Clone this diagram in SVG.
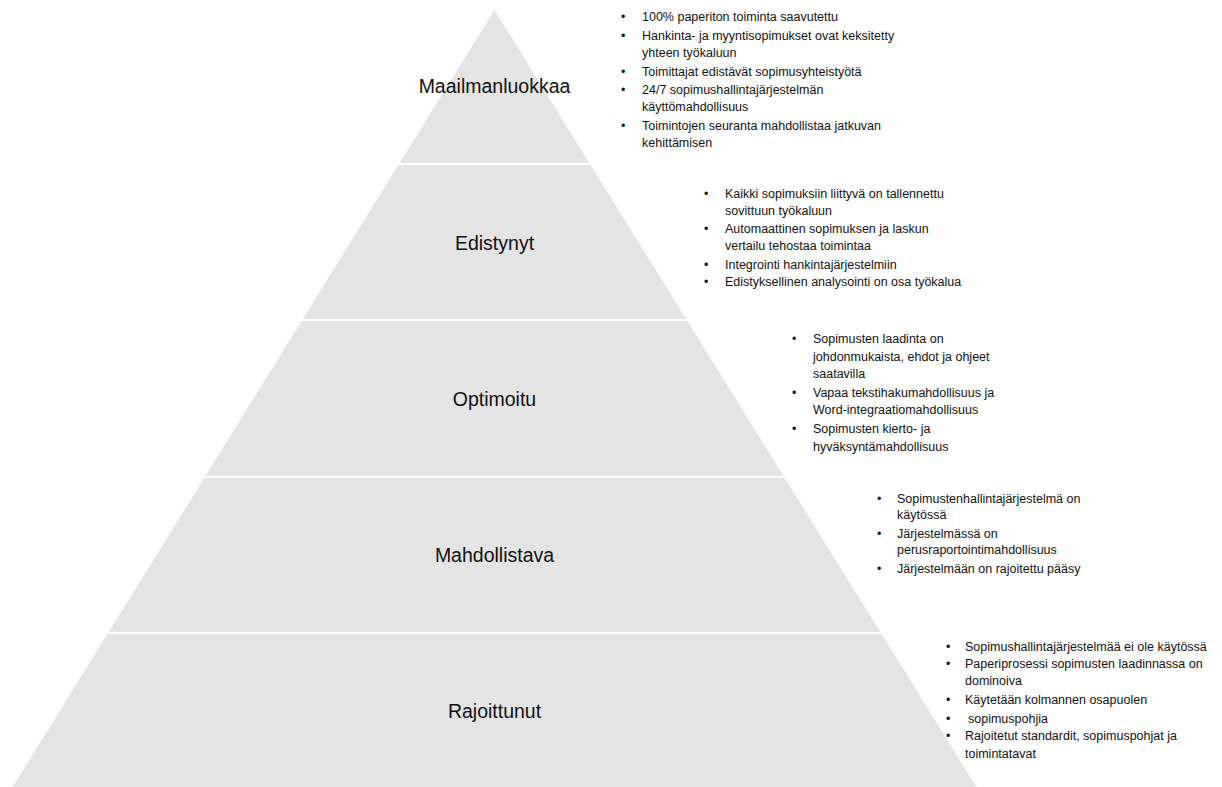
<svg xmlns="http://www.w3.org/2000/svg" width="1222" height="787" viewBox="0 0 1222 787">
<style>
.lvl{fill:#e4e4e4;}
.lbl{font-family:"Liberation Sans",Arial,sans-serif;font-size:19.5px;fill:#111;text-anchor:middle;}
.bt{font-family:"Liberation Sans",Arial,sans-serif;font-size:12.5px;fill:#111;}
</style>
<rect width="1222" height="787" fill="#ffffff"/>
<g id="level-maailmanluokkaa">
<polygon class="lvl" points="494.5,10 589.4,163 399.6,163"/>
<text class="lbl" x="494.5" y="93">Maailmanluokkaa</text>
</g>
<g id="level-edistynyt">
<polygon class="lvl" points="398.4,165 590.6,165 686.2,319 302.8,319"/>
<text class="lbl" x="494.5" y="250">Edistynyt</text>
</g>
<g id="level-optimoitu">
<polygon class="lvl" points="301.6,321 687.4,321 783.6,476 205.4,476"/>
<text class="lbl" x="494.5" y="406">Optimoitu</text>
</g>
<g id="level-mahdollistava">
<polygon class="lvl" points="204.2,478 784.8,478 880.3,632 108.7,632"/>
<text class="lbl" x="494.5" y="562">Mahdollistava</text>
</g>
<g id="level-rajoittunut">
<polygon class="lvl" points="107.4,634 881.6,634 976.5,787 12.5,787"/>
<text class="lbl" x="494.5" y="718">Rajoittunut</text>
</g>
<g id="notes-maailmanluokkaa" class="bt">
<text x="621" y="21">•</text><text x="642" y="21">100% paperiton toiminta saavutettu</text>
<text x="621" y="39.5">•</text><text x="642" y="39.5">Hankinta- ja myyntisopimukset ovat keksitetty</text>
<text x="642" y="56.5">yhteen työkaluun</text>
<text x="621" y="75.5">•</text><text x="642" y="75.5">Toimittajat edistävät sopimusyhteistyötä</text>
<text x="621" y="94">•</text><text x="642" y="94">24/7 sopimushallintajärjestelmän</text>
<text x="642" y="111">käyttömahdollisuus</text>
<text x="621" y="130">•</text><text x="642" y="130">Toimintojen seuranta mahdollistaa jatkuvan</text>
<text x="642" y="147">kehittämisen</text>
</g>
<g id="notes-edistynyt" class="bt">
<text x="704" y="197.5">•</text><text x="725" y="197.5">Kaikki sopimuksiin liittyvä on tallennettu</text>
<text x="725" y="214.5">sovittuun työkaluun</text>
<text x="704" y="233">•</text><text x="725" y="233">Automaattinen sopimuksen ja laskun</text>
<text x="725" y="250">vertailu tehostaa toimintaa</text>
<text x="704" y="269">•</text><text x="725" y="269">Integrointi hankintajärjestelmiin</text>
<text x="704" y="286">•</text><text x="725" y="286">Edistyksellinen analysointi on osa työkalua</text>
</g>
<g id="notes-optimoitu" class="bt">
<text x="792" y="342.5">•</text><text x="813" y="342.5">Sopimusten laadinta on</text>
<text x="813" y="360.5">johdonmukaista, ehdot ja ohjeet</text>
<text x="813" y="377.5">saatavilla</text>
<text x="792" y="396.5">•</text><text x="813" y="396.5">Vapaa tekstihakumahdollisuus ja</text>
<text x="813" y="414">Word-integraatiomahdollisuus</text>
<text x="792" y="432.5">•</text><text x="813" y="432.5">Sopimusten kierto- ja</text>
<text x="813" y="450.5">hyväksyntämahdollisuus</text>
</g>
<g id="notes-mahdollistava" class="bt">
<text x="877" y="502.5">•</text><text x="897" y="502.5">Sopimustenhallintajärjestelmä on</text>
<text x="897" y="519">käytössä</text>
<text x="877" y="537.5">•</text><text x="897" y="537.5">Järjestelmässä on</text>
<text x="897" y="554">perusraportointimahdollisuus</text>
<text x="877" y="573">•</text><text x="897" y="573">Järjestelmään on rajoitettu pääsy</text>
</g>
<g id="notes-rajoittunut" class="bt">
<text x="946" y="650.5">•</text><text x="965" y="650.5">Sopimushallintajärjestelmää ei ole käytössä</text>
<text x="946" y="667.5">•</text><text x="965" y="667.5">Paperiprosessi sopimusten laadinnassa on</text>
<text x="965" y="684.5">dominoiva</text>
<text x="946" y="704">•</text><text x="965" y="704">Käytetään kolmannen osapuolen</text>
<text x="946" y="722.5">•</text><text x="968" y="722.5">sopimuspohjia</text>
<text x="946" y="740">•</text><text x="965" y="740">Rajoitetut standardit, sopimuspohjat ja</text>
<text x="965" y="757.5">toimintatavat</text>
</g>
</svg>
